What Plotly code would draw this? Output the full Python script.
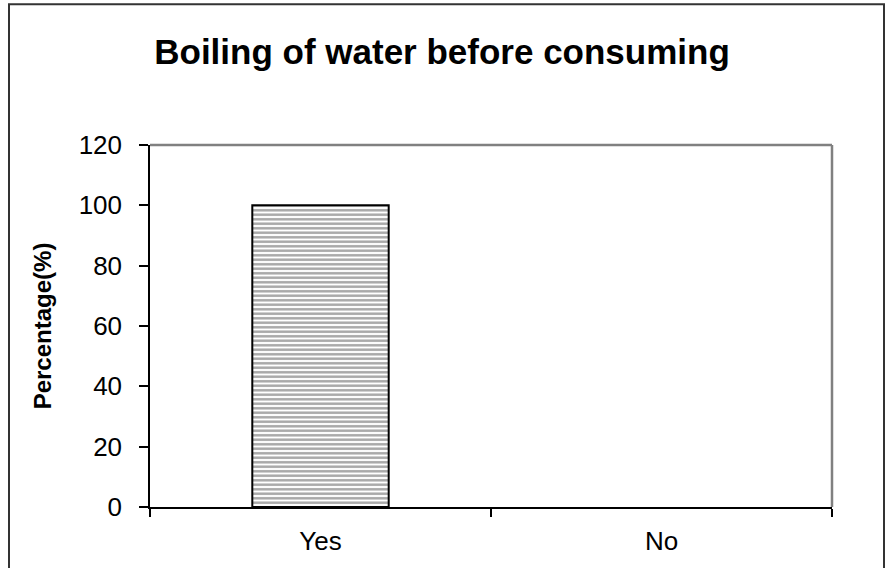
import plotly.graph_objects as go

# Survey responses: boiling water before consuming
categories = ["Yes", "No"]
percentages = [100, 0]
y_ticks = [0, 20, 40, 60, 80, 100, 120]

W, H = 893, 568
ML, MR, MT, MB = 150, 61, 145, 59
PW, PH = W - ML - MR, H - MT - MB


def px_x(x):
    return (x - ML) / PW


def px_y(y):
    return (H - MB - y) / PH


# zero-height bars get no outline
outline_widths = [2 if v > 0 else 0 for v in percentages]

fig = go.Figure(
    go.Bar(
        x=categories,
        y=percentages,
        marker=dict(
            color="white",
            line=dict(color="black", width=outline_widths),
            pattern=dict(shape="-", size=4.5, solidity=0.55,
                         fgcolor="#4f4f4f", bgcolor="white"),
        ),
        showlegend=False,
    )
)

fig.update_layout(
    width=W,
    height=H,
    margin=dict(l=ML, r=MR, t=MT, b=MB),
    paper_bgcolor="white",
    plot_bgcolor="white",
    bargap=0.6,
    font=dict(family="Liberation Sans, Arial, sans-serif", color="black"),
    title=dict(
        text="<b>Boiling of water before consuming</b>",
        x=0.495, xref="container", xanchor="center",
        y=1 - 64 / H, yref="container", yanchor="bottom",
        font=dict(size=35, color="black"),
    ),
    xaxis=dict(
        type="category",
        tickson="boundaries",
        ticks="outside",
        ticklen=8,
        tickwidth=1.5,
        tickcolor="black",
        showline=True,
        linecolor="black",
        linewidth=1.5,
        showgrid=False,
        tickfont=dict(size=26),
        ticklabelstandoff=10,
        fixedrange=True,
    ),
    yaxis=dict(
        range=[0, 120],
        tickvals=y_ticks,
        ticks="outside",
        ticklen=9,
        tickwidth=1.5,
        tickcolor="black",
        showline=True,
        linecolor="black",
        linewidth=1.5,
        showgrid=False,
        zeroline=False,
        tickfont=dict(size=26),
        ticklabelstandoff=12,
        title=dict(text="<b>Percentage(%)</b>", font=dict(size=24), standoff=20),
    ),
    shapes=[
        # grey frame on the top and right edges of the plot area
        dict(type="line", xref="paper", yref="paper", x0=0, x1=1, y0=1, y1=1,
             line=dict(color="#808080", width=2.5)),
        dict(type="line", xref="paper", yref="paper", x0=1, x1=1, y0=0, y1=1,
             line=dict(color="#808080", width=2.5)),
        # outer chart border
        dict(type="rect", xref="paper", yref="paper",
             x0=px_x(9), x1=px_x(884), y0=px_y(3.5), y1=px_y(H + 20),
             line=dict(color="#333333", width=2)),
    ],
)

fig.write_html("out.html")
